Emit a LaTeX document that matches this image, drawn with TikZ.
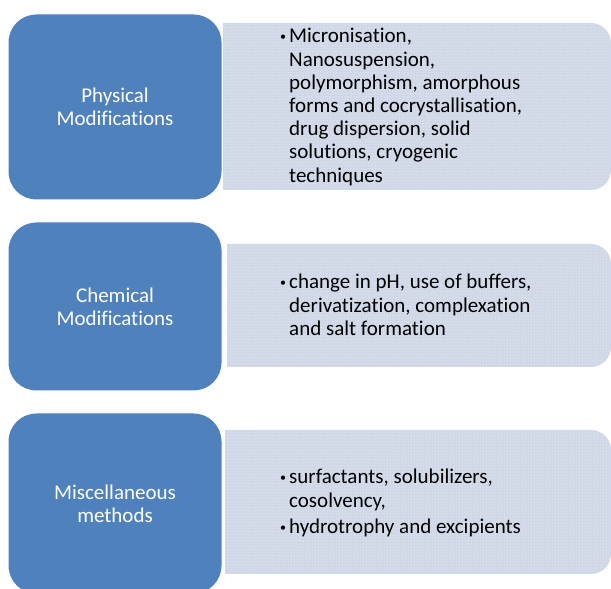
\documentclass[tikz,border=0pt]{standalone}
\usepackage{fontspec}
\setmainfont{Carlito}[Ligatures=NoCommon]
\usetikzlibrary{patterns}
\definecolor{catblue}{RGB}{79,129,189}
\definecolor{panelgray}{RGB}{208,216,232}
\newcommand{\bul}{\leavevmode\llap{\raisebox{2.2pt}{\fontsize{12}{12}\selectfont\textbullet}\hspace{3pt}}}
% light panel with square left corners and rounded right ones: x0,y0,x1,y1
\newcommand{\panel}[4]{\path[panelfill] (#1,#2) -- (#3-20,#2) arc[start angle=-90,end angle=0,radius=20] -- (#3,#4-20) arc[start angle=0,end angle=90,radius=20] -- (#1,#4) -- cycle;}
\tikzset{
  panelfill/.style={preaction={fill=panelgray},pattern=dots,pattern color=white!75!panelgray},
  catbox/.style={rectangle,rounded corners=28pt,fill=catblue,draw=white,line width=1pt,
    text=white,align=center,minimum width=214pt,font=\fontsize{21}{23.2}\selectfont},
  listtext/.style={anchor=base west,inner sep=0pt,font=\fontsize{21}{23.2}\selectfont}
}

\begin{document}
\begin{tikzpicture}[x=1pt,y=1pt]
    \useasboundingbox (0,0) rectangle (611,589);
    \clip (0,0) rectangle (611,589);

    % panels behind the lists
    \panel{223}{399}{611}{566}
    \panel{227}{222}{611}{345}
    \panel{225}{15}{611}{159}

    % the three kinds of method
    \node[catbox,minimum height=186pt] (phys) at (115,482) {Physical\\Modifications};
    \node[catbox,minimum height=169pt] (chem) at (115,282.5) {Chemical\\Modifications};
    \node[catbox,minimum height=181pt] (misc) at (115,85.5) {Miscellaneous\\methods};

    % what each one covers
    \node[listtext] (physlist) at (289,546) {\parbox[t]{320pt}{\raggedright
        \bul Micronisation,\\ Nanosuspension,\\ polymorphism, amorphous\\ forms and cocrystallisation,\\
        drug dispersion, solid\\ solutions, cryogenic\\ techniques}};
    \node[listtext] (chemlist) at (289,300) {\parbox[t]{320pt}{\raggedright
        \bul change in pH, use of buffers,\\ derivatization, complexation\\ and salt formation}};
    \node[listtext] (misclist) at (289,105) {\parbox[t]{320pt}{\raggedright
        \bul surfactants, solubilizers,\\ cosolvency,\\[3pt] \bul hydrotrophy and excipients}};
\end{tikzpicture}
\end{document}
